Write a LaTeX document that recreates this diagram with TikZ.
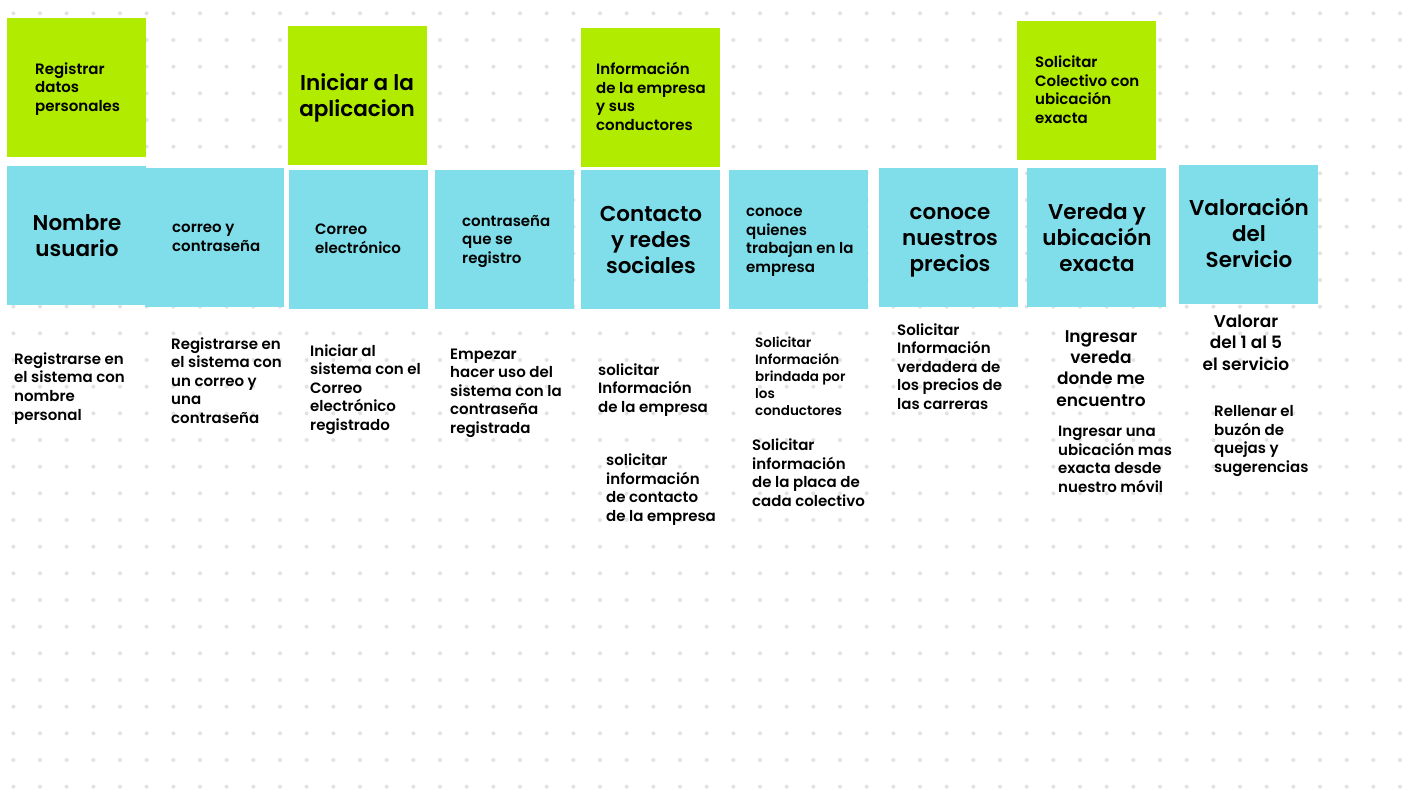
\documentclass[tikz,border=0pt]{standalone}
\usepackage{fontspec}
\setmainfont{Poppins}[UprightFont={* Medium},BoldFont={* SemiBold}]
\definecolor{lime}{RGB}{176,235,0}
\definecolor{sky}{RGB}{128,222,234}
\definecolor{dotc}{RGB}{226,226,226}
\begin{document}
\begin{tikzpicture}[x=1pt,y=-1pt,
  gbox/.style={fill=lime,draw=none,inner sep=0,minimum width=139pt,minimum height=139pt,anchor=north west},
  bbox/.style={fill=sky,draw=none,inner sep=0,minimum width=139pt,minimum height=139pt,anchor=north west},
  small/.style={inner sep=0,anchor=base west,align=left,font=\fontsize{15}{18.6}\selectfont\bfseries},
  tiny/.style={inner sep=0,anchor=base west,align=left,font=\fontsize{13.5}{17}\selectfont\bfseries},
  mid/.style={inner sep=0,anchor=base,align=center,font=\fontsize{17}{21.3}\selectfont\bfseries},
  big/.style={inner sep=0,anchor=base,align=center,font=\fontsize{21.5}{26}\selectfont\bfseries}]
\useasboundingbox (0,0) rectangle (1422,800);
\fill[white] (0,0) rectangle (1422,800);
\foreach \i in {0,...,52}{\foreach \j in {0,...,29}{\fill[dotc] (13.333+26.667*\i,13.333+26.667*\j) circle[radius=2pt];}}
% green boxes
\node[gbox] (g1) at (7,18) {};
\node[gbox] (g2) at (288,26) {};
\node[gbox] (g3) at (581,28) {};
\node[gbox] (g4) at (1017,21) {};
% blue boxes
\node[bbox] (b1) at (7,166) {};
\node[bbox] (b2) at (145,168) {};
\node[bbox] (b3) at (289,170) {};
\node[bbox] (b4) at (435,170) {};
\node[bbox] (b5) at (581,170) {};
\node[bbox] (b6) at (729,170) {};
\node[bbox] (b7) at (879,168) {};
\node[bbox] (b8) at (1027,168) {};
\node[bbox] (b9) at (1179,165) {};
% green texts (anchored at the baseline of the last line)
\node[small] (g1t) at (35,111.5) {Registrar\\datos\\personales};
\node[big] (g2t) at (357,116) {Iniciar a la\\aplicacion};
\node[small] (g3t) at (596,130.5) {Información\\de la empresa\\y sus\\conductores};
\node[small] (g4t) at (1035,123.5) {Solicitar\\Colectivo con\\ubicación\\exacta};
% blue texts
\node[big] (b1t) at (77,256) {Nombre\\usuario};
\node[small] (b2t) at (172,251.5) {correo y\\contraseña};
\node[small] (b3t) at (315,253.5) {Correo\\electrónico};
\node[small] (b4t) at (462,263.5) {contraseña\\que se\\registro};
\node[big] (b5t) at (651,273) {Contacto\\y redes\\sociales};
\node[small] (b6t) at (746,272.5) {conoce\\quienes\\trabajan en la\\empresa};
\node[big] (b7t) at (950,271) {conoce\\nuestros\\precios};
\node[big] (b8t) at (1097,271) {Vereda y\\ubicación\\exacta};
\node[big] (b9t) at (1249,267) {Valoración\\del\\Servicio};
% lower texts
\node[small] (t1) at (14,420) {Registrarse en\\el sistema con\\nombre\\personal};
\node[small] (t2) at (171,423.5) {Registrarse en\\el sistema con\\un correo y\\una\\contraseña};
\node[small] (t3) at (310,430.5) {Iniciar al\\sistema con el\\Correo\\electrónico\\registrado};
\node[small] (t4) at (450,433.5) {Empezar\\hacer uso del\\sistema con la\\contraseña\\registrada};
\node[small] (t5) at (598,412.5) {solicitar\\Información\\de la empresa};
\node[small] (t6) at (606,521.5) {solicitar\\información\\de contacto\\de la empresa};
\node[tiny] (t7) at (755,415) {Solicitar\\Información\\brindada por\\los\\conductores};
\node[small] (t8) at (752,506.5) {Solicitar\\información\\de la placa de\\cada colectivo};
\node[small] (t9) at (897,409.5) {Solicitar\\Información\\verdadera de\\los precios de\\las carreras};
\node[mid] (t10) at (1101,406) {Ingresar\\vereda\\donde me\\encuentro};
\node[small] (t11) at (1058,492.5) {Ingresar una\\ubicación mas\\exacta desde\\nuestro móvil};
\node[mid] (t12) at (1246,370) {Valorar\\del 1 al 5\\el servicio};
\node[small] (t13) at (1214,472.5) {Rellenar el\\buzón de\\quejas y\\sugerencias};
\end{tikzpicture}
\end{document}
